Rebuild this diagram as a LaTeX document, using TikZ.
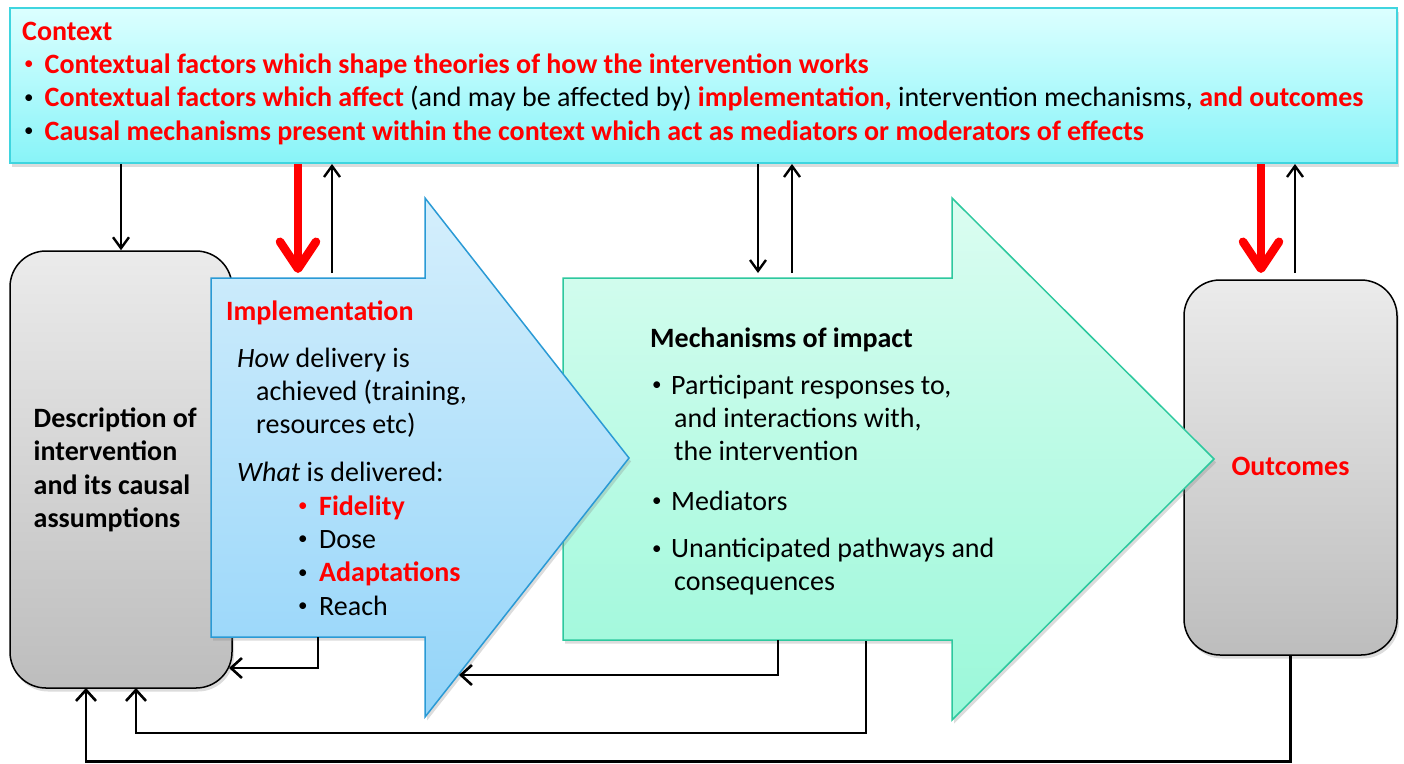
\documentclass[tikz,border=0pt]{standalone}
\usepackage{fontspec}
\setmainfont{Carlito}
\usetikzlibrary{arrows.meta,shadows,calc}
\definecolor{cred}{HTML}{FF0000}
\definecolor{ctxtop}{HTML}{DCFFFF}
\definecolor{ctxbot}{HTML}{88F4F8}
\definecolor{ctxline}{HTML}{3FD5DF}
\definecolor{imptop}{HTML}{D5EFFC}
\definecolor{impbot}{HTML}{93D4F9}
\definecolor{impline}{HTML}{2A9AD5}
\definecolor{mectop}{HTML}{DBFDF1}
\definecolor{mecbot}{HTML}{9AF8D9}
\definecolor{mecline}{HTML}{2DC89E}
\definecolor{graytop}{HTML}{EBEBEB}
\definecolor{graybot}{HTML}{BDBDBD}
% small raised list bullet
\newcommand{\lbul}{\raisebox{3.2pt}{\fontsize{19}{19}\selectfont •}}
\begin{document}
\begin{tikzpicture}[x=1pt,y=-1pt,
  softshadow/.style={drop shadow={opacity=0.28,shadow xshift=2pt,shadow yshift=-3.5pt}},
  ctxbox/.style={rectangle,draw=ctxline,line width=2pt,top color=ctxtop,bottom color=ctxbot,softshadow},
  graybox/.style={rectangle,rounded corners=36pt,draw=black,line width=1.5pt,top color=graytop,bottom color=graybot,softshadow},
  txt/.style={anchor=base west,inner sep=0pt,font=\fontsize{28}{33}\selectfont},
  ctr/.style={anchor=base,inner sep=0pt,font=\fontsize{28}{33}\selectfont},
  blkarr/.style={draw=black,line width=2.4pt,-{Straight Barb[length=11pt,width=16pt]}},
  redarr/.style={draw=cred,line width=8.5pt,-{Straight Barb[length=27pt,width=36pt,round]}},
  conn/.style={draw=black,line width=2.6pt,-{Straight Barb[length=11pt,width=20pt]}}]
\useasboundingbox (0,0) rectangle (1404,763);

% context band across the top
\node[ctxbox,minimum width=1387pt,minimum height=155pt] (ctx) at (703.5,85.5) {};

% rounded end boxes
\node[graybox,minimum width=222pt,minimum height=437pt] (desc) at (121,469.5) {};
\node[graybox,minimum width=213pt,minimum height=375pt] (outc) at (1290.5,467.5) {};

% block arrows (implementation sits on top of mechanisms)
\path[draw=mecline,line width=1.5pt,top color=mectop,bottom color=mecbot,softshadow]
  (563,278) -- (952,278) -- (952,198) -- (1214,459) -- (952,720) -- (952,640) -- (563,640) -- cycle;
\path[draw=impline,line width=1.5pt,top color=imptop,bottom color=impbot,softshadow]
  (211,278) -- (425,278) -- (425,198) -- (629,458) -- (425,717) -- (425,637) -- (211,637) -- cycle;

% context text
\node[txt,text=cred] (ctxhead) at (22,40) {\bfseries Context};
\node[txt,text=cred] (ctxb1) at (24,73) {\lbul};
\node[txt,text=cred] (ctxl1) at (44.5,73) {\bfseries Contextual factors which shape theories of how the intervention works};
\node[txt] (ctxb2) at (24,106.5) {\lbul};
\node[txt] (ctxl2) at (44.5,106.5) {\textcolor{cred}{\bfseries Contextual factors which affect} (and may be affected by) \textcolor{cred}{\bfseries implementation,} intervention mechanisms, \textcolor{cred}{\bfseries and outcomes}};
\node[txt] (ctxb3) at (24,140) {\lbul};
\node[txt,text=cred] (ctxl3) at (44.5,140) {\bfseries Causal mechanisms present within the context which act as mediators or moderators of effects};

% description box text
\node[txt] (d1) at (33.5,427) {\bfseries Description of};
\node[txt] (d2) at (33.5,460.5) {\bfseries intervention};
\node[txt] (d3) at (33.5,494) {\bfseries and its causal};
\node[txt] (d4) at (33.5,527) {\bfseries assumptions};

% implementation text
\node[txt,text=cred] (i0) at (226,320) {\bfseries Implementation};
\node[txt] (i1) at (237,367) {\textit{How} delivery is};
\node[txt] (i2) at (256,400) {achieved (training,};
\node[txt] (i3) at (256,433) {resources etc)};
\node[txt] (i4) at (237,481.5) {\textit{What} is delivered:};
\node[txt,text=cred] (ib1) at (298,515) {\lbul};
\node[txt,text=cred] (i5) at (319,515) {\bfseries Fidelity};
\node[txt] (ib2) at (298,548) {\lbul};
\node[txt] (i6) at (319,548) {Dose};
\node[txt] (ib3) at (298,581.5) {\lbul};
\node[txt,text=cred] (i7) at (319,581.5) {\bfseries Adaptations};
\node[txt] (ib4) at (298,615) {\lbul};
\node[txt] (i8) at (319,615) {Reach};

% mechanisms text
\node[txt] (m0) at (650,347) {\bfseries Mechanisms of impact};
\node[txt] (mb1) at (652,394) {\lbul};
\node[txt] (m1) at (671,394) {Participant responses to,};
\node[txt] (m2) at (674,427) {and interactions with,};
\node[txt] (m3) at (674,460.5) {the intervention};
\node[txt] (mb2) at (652,510) {\lbul};
\node[txt] (m4) at (671,510) {Mediators};
\node[txt] (mb3) at (652,557.5) {\lbul};
\node[txt] (m5) at (671,557.5) {Unanticipated pathways and};
\node[txt] (m6) at (674,590.5) {consequences};

% outcomes text
\node[ctr,text=cred] (o0) at (1290.5,475) {\bfseries Outcomes};

% connector end points on the arrow shapes
\coordinate (implred) at (298,273);
\coordinate (implup) at (332,273);
\coordinate (mechdown) at (758,273);
\coordinate (mechup) at (792,273);
\coordinate (outred) at (1261,273);
\coordinate (outup) at (1295,273);
\coordinate (implout) at (318,637);
\coordinate (descright) at (229,668);
\coordinate (mechout1) at (778,640);
\coordinate (impledge) at (459,675);
\coordinate (mechout2) at (866,641);
\coordinate (descin2) at (136,688);
\coordinate (descin3) at (86,688);

% links with the context band
\draw[blkarr] (ctx.south -| desc.north) -- (desc.north);
\draw[redarr] (ctx.south -| implred) -- (implred);
\draw[blkarr] (implup) -- (ctx.south -| implup);
\draw[blkarr] (ctx.south -| mechdown) -- (mechdown);
\draw[blkarr] (mechup) -- (ctx.south -| mechup);
\draw[redarr] (ctx.south -| outred) -- (outred);
\draw[blkarr] (outup) -- (ctx.south -| outup);

% feedback loops along the bottom
\draw[conn] (implout) |- (descright);
\draw[conn] (mechout1) |- (impledge);
\draw[conn] (mechout2) -- ++(0,92) -| (descin2);
\draw[conn] (outc.south) -- ++(0,106) -| (descin3);
\end{tikzpicture}
\end{document}
